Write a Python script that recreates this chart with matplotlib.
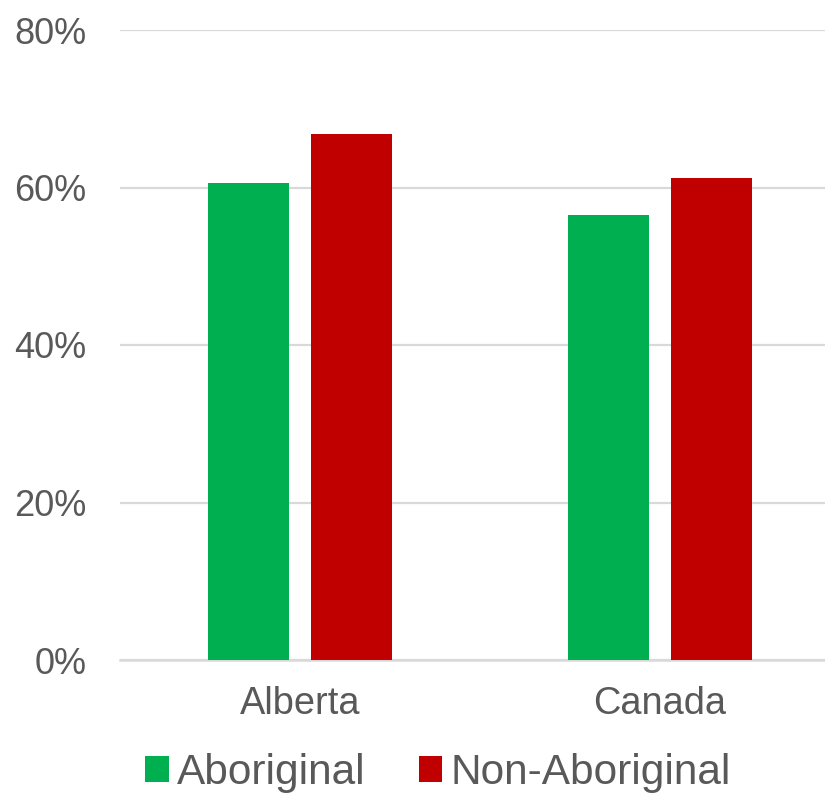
import numpy as np
import matplotlib.pyplot as plt

# данные
regions = ['Alberta', 'Canada']
aboriginal = [60.6, 56.5]
non_aboriginal = [66.8, 61.2]
series_names = ['Aboriginal', 'Non-Aboriginal']
colors = ['#00B050', '#C00000']
yticks = [0, 20, 40, 60, 80]

plt.rcParams['font.family'] = ['Liberation Sans', 'DejaVu Sans']
txt = '#595959'

fig = plt.figure(figsize=(8.25, 7.93), dpi=100)
ax = fig.add_axes([120/825, 1 - 660/793, 720/825, 630/793])

x = np.arange(len(regions))
w = 0.225
ax.bar(x - 0.142, aboriginal, w, color=colors[0], label=series_names[0], zorder=3)
ax.bar(x + 0.142, non_aboriginal, w, color=colors[1], label=series_names[1], zorder=3)

ax.set_xlim(-0.5, 1.5)
ax.set_ylim(0, 80)
ax.set_yticks(yticks)
ax.set_yticklabels([f'{v}%' for v in yticks])
ax.set_xticks(x)
ax.set_xticklabels(regions)
ax.tick_params(axis='y', length=0, pad=24, labelsize=26, labelcolor=txt)
ax.tick_params(axis='x', length=0, pad=19, labelsize=27.4, labelcolor=txt)
ax.grid(axis='y', color='#D9D9D9', linewidth=1.6, zorder=0)
ax.set_axisbelow(True)
for s in ['top', 'right', 'left', 'bottom']:
    ax.spines[s].set_visible(False)
ax.axhline(0, color='#D9D9D9', linewidth=1.8, zorder=2, clip_on=False)

leg = fig.legend(loc='center', bbox_to_anchor=(438/825, 1 - 773/793), ncol=2,
                 frameon=False, fontsize=30.5, handlelength=0.55, handleheight=0.55,
                 handletextpad=0.2, columnspacing=1.25, borderaxespad=0)
for t in leg.get_texts():
    t.set_color(txt)

fig.savefig('out.png', dpi=100)
